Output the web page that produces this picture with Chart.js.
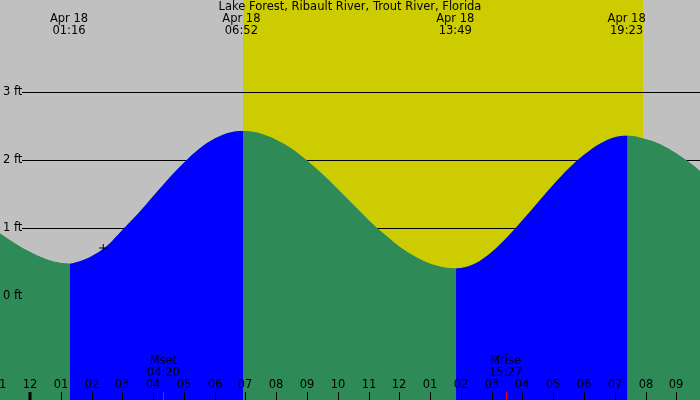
<!DOCTYPE html>
<html>
<head>
<meta charset="utf-8">
<script src="https://cdn.jsdelivr.net/npm/chart.js@4.4.0/dist/chart.umd.min.js"></script>
<style>
    body { margin: 0; background: #fff; }
    canvas { display: block; }
</style>
</head>
<body>
<canvas id="myGraf" width="700" height="400"></canvas>
<script>
var titre = "Lake Forest, Ribault River, Trout River, Florida";

// heures depuis minuit (Apr 18) et hauteur en ft
var tideTimes = [-1, -0.5, 0, 0.5, 1, 1.30, 1.5, 2, 2.5, 3, 3.5, 4, 4.5, 5, 5.5, 6, 6.5, 6.92,
    7.5, 8, 8.5, 9, 9.5, 10, 10.5, 11, 11.5, 12, 12.5, 13, 13.5, 13.84,
    14.5, 15, 15.5, 16, 16.5, 17, 17.5, 18, 18.5, 19, 19.41, 20, 20.5, 21, 21.5, 22];
var tideHeights = [0.93, 0.78, 0.65, 0.55, 0.49, 0.48, 0.50, 0.59, 0.74, 0.975, 1.21, 1.47, 1.73, 1.965, 2.17, 2.32, 2.41, 2.43,
    2.39, 2.30, 2.17, 1.995, 1.795, 1.575, 1.346, 1.12, 0.915, 0.73, 0.585, 0.477, 0.42, 0.41,
    0.49, 0.65, 0.87, 1.12, 1.38, 1.64, 1.88, 2.08, 2.24, 2.34, 2.36, 2.31, 2.23, 2.10, 1.94, 1.75];

var extremeTimes = [1.267, 6.867, 13.817, 19.383];
var extremeDays = ['Apr 18', 'Apr 18', 'Apr 18', 'Apr 18'];
var extremeLabels = ['01:16', '06:52', '13:49', '19:23'];

var sunrise = 6.93;
var sunset = 19.93;

var moonTimes = [4.333, 15.45];
var moonNames = ['Mset', 'Mrise'];
var moonLabels = ['04:20', '15:27'];

var hourTicks = [-1, 0, 1, 2, 3, 4, 5, 6, 7, 8, 9, 10, 11, 12, 13, 14, 15, 16, 17, 18, 19, 20, 21];
var hourLabels = ['11', '12', '01', '02', '03', '04', '05', '06', '07', '08', '09', '10', '11', '12', '01', '02', '03', '04', '05', '06', '07', '08', '09'];

var feetTicks = [0, 1, 2, 3];
var feetLabels = ['0 ft', '1 ft', '2 ft', '3 ft'];

var markerTimes = [2.38];
var markerHeights = [0.71];

var grey = '#C0C0C0';
var yellow = '#CCCC00';
var blue = '#0000FF';
var green = '#2E8B57';
var police = '11.5px "DejaVu Sans"';

function toPoints(xs, ys) {
    return xs.map(function(v, i) { return {x: v, y: ys[i]}; });
}

var decor = {
    id: 'decor',
    beforeDatasetsDraw: function(chart) {
        var ctx = chart.ctx;
        var sx = chart.scales.x;
        var sy = chart.scales.y;
        var a = chart.chartArea;
        ctx.save();
        ctx.fillStyle = grey;
        ctx.fillRect(a.left, a.top, a.right - a.left, a.bottom - a.top);
        var x0 = Math.round(sx.getPixelForValue(sunrise));
        var x1 = Math.round(sx.getPixelForValue(sunset));
        ctx.fillStyle = yellow;
        ctx.fillRect(x0, a.top, x1 - x0, a.bottom - a.top);

        ctx.strokeStyle = '#000';
        ctx.lineWidth = 1;
        feetTicks.forEach(function(v) {
            if (v == 0) return;
            var py = Math.round(sy.getPixelForValue(v)) + 0.5;
            ctx.beginPath();
            ctx.moveTo(22, py);
            ctx.lineTo(a.right, py);
            ctx.stroke();
        });
        ctx.restore();
    },
    afterDatasetsDraw: function(chart) {
        var ctx = chart.ctx;
        var sx = chart.scales.x;
        var sy = chart.scales.y;
        var a = chart.chartArea;
        ctx.save();
        ctx.font = police;
        ctx.fillStyle = '#000';
        ctx.textBaseline = 'middle';

        ctx.textAlign = 'left';
        feetTicks.forEach(function(v, i) {
            ctx.fillText(feetLabels[i], 3, Math.round(sy.getPixelForValue(v)));
        });

        ctx.textAlign = 'center';
        ctx.fillText(titre, 350, 7);
        extremeTimes.forEach(function(t, i) {
            var px = sx.getPixelForValue(t);
            ctx.fillText(extremeDays[i], px, 19);
            ctx.fillText(extremeLabels[i], px, 31);
        });

        ctx.strokeStyle = '#000';
        hourTicks.forEach(function(h, i) {
            var px = Math.round(sx.getPixelForValue(h));
            ctx.fillText(hourLabels[i], px, 385);
            ctx.lineWidth = h == 0 ? 3 : 1;
            ctx.beginPath();
            ctx.moveTo(px + (h == 0 ? 0 : 0.5), 392);
            ctx.lineTo(px + (h == 0 ? 0 : 0.5), a.bottom);
            ctx.stroke();
        });

        ctx.strokeStyle = '#FF0000';
        ctx.lineWidth = 1;
        moonTimes.forEach(function(t, i) {
            var px = sx.getPixelForValue(t);
            ctx.fillText(moonNames[i], px, 361);
            ctx.fillText(moonLabels[i], px, 373);
            ctx.beginPath();
            ctx.moveTo(Math.round(px) + 0.5, 392);
            ctx.lineTo(Math.round(px) + 0.5, a.bottom);
            ctx.stroke();
        });
        ctx.restore();
    }
};

var tidePoints = toPoints(tideTimes, tideHeights);

var ctx = document.getElementById('myGraf').getContext('2d');
var myGraf = new Chart(ctx, {
    type: 'line',
    data: {
        datasets: [{
            data: toPoints(markerTimes, markerHeights),
            showLine: false,
            pointStyle: 'cross',
            pointRadius: 4,
            borderColor: '#000',
            borderWidth: 1,
            order: 0
        }, {
            // montant en bleu, descendant en vert
            data: tidePoints,
            borderColor: 'rgba(0,0,0,0)',
            borderWidth: 0,
            pointRadius: 0,
            cubicInterpolationMode: 'monotone',
            fill: 'start',
            backgroundColor: green,
            segment: {
                backgroundColor: function(c) {
                    return c.p1.parsed.y > c.p0.parsed.y ? blue : green;
                }
            },
            order: 1
        }, {
            // dessous, pour cacher les joints entre les couleurs
            data: tidePoints,
            borderColor: 'rgba(0,0,0,0)',
            borderWidth: 0,
            pointRadius: 0,
            cubicInterpolationMode: 'monotone',
            fill: 'start',
            backgroundColor: green,
            order: 2
        }]
    },
    plugins: [decor],
    options: {
        responsive: false,
        animation: false,
        layout: { padding: 0, autoPadding: false },
        scales: {
            x: { type: 'linear', min: -0.975, max: 21.767, display: false },
            y: { min: -1.525, max: 4.357, display: false }
        },
        plugins: {
            legend: { display: false },
            tooltip: { enabled: false }
        }
    }
});
</script>
</body>
</html>
